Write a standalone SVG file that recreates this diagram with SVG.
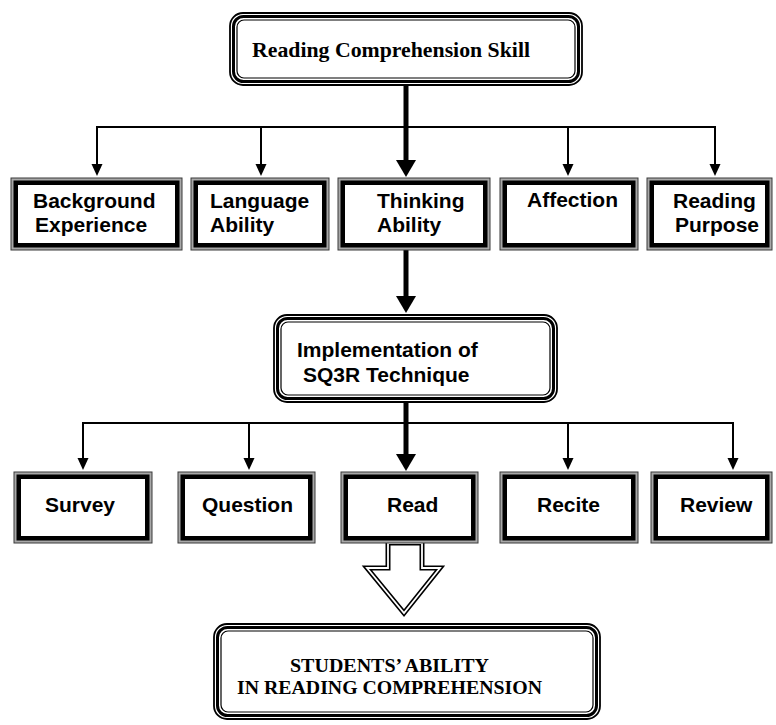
<svg xmlns="http://www.w3.org/2000/svg" width="776" height="725" viewBox="0 0 776 725">
<style>
.bo{fill:#a8a8a8;stroke:#3a3a3a;stroke-width:1}
.bm{fill:#000}
.bi{fill:#fff}
.r1{fill:#fff;stroke:#000;stroke-width:1.8}
.r2{fill:none;stroke:#000;stroke-width:3}
.r3{fill:none;stroke:#000;stroke-width:1.2}
.ts{font-family:"Liberation Serif","Times New Roman",serif;font-weight:bold;fill:#000}
.tn{font-family:"Liberation Sans",Arial,sans-serif;font-weight:bold;font-size:21px;fill:#000}
.thin{stroke:#000;stroke-width:2;fill:none}
.thick{stroke:#000;stroke-width:5;fill:none}
.ah{fill:#000}
</style>
<rect width="776" height="725" fill="#fff"/>
<g id="connectors">
  <line class="thick" x1="406" y1="86" x2="406" y2="162"/>
  <polygon class="ah" points="396,160 416,160 406,177"/>
  <polyline class="thin" points="97,166 97,127 715,127 715,166"/>
  <line class="thin" x1="261" y1="127" x2="261" y2="166"/>
  <line class="thin" x1="568" y1="127" x2="568" y2="166"/>
  <polygon class="ah" points="91.5,164 102.5,164 97,176"/>
  <polygon class="ah" points="255.5,164 266.5,164 261,176"/>
  <polygon class="ah" points="562.5,164 573.5,164 568,176"/>
  <polygon class="ah" points="709.5,164 720.5,164 715,176"/>
  <line class="thick" x1="406" y1="250" x2="406" y2="298"/>
  <polygon class="ah" points="396,296 416,296 406,313"/>
  <line class="thick" x1="406" y1="403" x2="406" y2="456"/>
  <polygon class="ah" points="396,454 416,454 406,471"/>
  <polyline class="thin" points="83,460 83,423 733,423 733,460"/>
  <line class="thin" x1="249" y1="423" x2="249" y2="460"/>
  <line class="thin" x1="568" y1="423" x2="568" y2="460"/>
  <polygon class="ah" points="77.5,458 88.5,458 83,470"/>
  <polygon class="ah" points="243.5,458 254.5,458 249,470"/>
  <polygon class="ah" points="562.5,458 573.5,458 568,470"/>
  <polygon class="ah" points="727.5,458 738.5,458 733,470"/>
  <polygon points="388,543 422,543 422,568 440,568 404,613 367,568 388,568" fill="#fff" stroke="#000" stroke-width="5" stroke-linejoin="miter"/>
  <polygon points="388,543 422,543 422,568 440,568 404,613 367,568 388,568" fill="none" stroke="#fff" stroke-width="1.8" stroke-linejoin="miter"/>
</g>
<g id="reading-comprehension-skill">
  <rect class="r1" x="230" y="13" width="352" height="72" rx="13"/>
  <rect class="r2" x="233.5" y="16.5" width="345" height="65" rx="10"/>
  <rect class="r3" x="237" y="20" width="338" height="58" rx="7"/>
  <text class="ts" x="252" y="57" font-size="21.5" textLength="278" lengthAdjust="spacingAndGlyphs">Reading Comprehension Skill</text>
</g>
<g id="background-experience">
  <rect class="bo" x="11" y="178" width="171" height="72"/>
  <rect class="bm" x="13.5" y="180.5" width="166" height="67"/>
  <rect class="bi" x="18" y="185" width="157" height="58"/>
  <text class="tn" x="33" y="208">Background</text>
  <text class="tn" x="35" y="232">Experience</text>
</g>
<g id="language-ability">
  <rect class="bo" x="191" y="178" width="138" height="72"/>
  <rect class="bm" x="193.5" y="180.5" width="133" height="67"/>
  <rect class="bi" x="198" y="185" width="124" height="58"/>
  <text class="tn" x="210" y="208">Language</text>
  <text class="tn" x="210" y="232">Ability</text>
</g>
<g id="thinking-ability">
  <rect class="bo" x="338" y="178" width="152" height="72"/>
  <rect class="bm" x="340.5" y="180.5" width="147" height="67"/>
  <rect class="bi" x="345" y="185" width="138" height="58"/>
  <text class="tn" x="377" y="208">Thinking</text>
  <text class="tn" x="377" y="232">Ability</text>
</g>
<g id="affection">
  <rect class="bo" x="500" y="178" width="138" height="72"/>
  <rect class="bm" x="502.5" y="180.5" width="133" height="67"/>
  <rect class="bi" x="507" y="185" width="124" height="58"/>
  <text class="tn" x="527" y="207">Affection</text>
</g>
<g id="reading-purpose">
  <rect class="bo" x="647" y="178" width="125" height="72"/>
  <rect class="bm" x="649.5" y="180.5" width="120" height="67"/>
  <rect class="bi" x="654" y="185" width="111" height="58"/>
  <text class="tn" x="673" y="208">Reading</text>
  <text class="tn" x="675" y="232">Purpose</text>
</g>
<g id="implementation-sq3r">
  <rect class="r1" x="274" y="315" width="283" height="87" rx="13"/>
  <rect class="r2" x="277.5" y="318.5" width="276" height="80" rx="10"/>
  <rect class="r3" x="281" y="322" width="269" height="73" rx="7"/>
  <text class="tn" x="297" y="357">Implementation of</text>
  <text class="tn" x="303" y="382">SQ3R Technique</text>
</g>
<g id="survey">
  <rect class="bo" x="14" y="472" width="138" height="71"/>
  <rect class="bm" x="16.5" y="474.5" width="133" height="66"/>
  <rect class="bi" x="21" y="479" width="124" height="57"/>
  <text class="tn" x="45" y="512">Survey</text>
</g>
<g id="question">
  <rect class="bo" x="178" y="472" width="137" height="71"/>
  <rect class="bm" x="180.5" y="474.5" width="132" height="66"/>
  <rect class="bi" x="185" y="479" width="123" height="57"/>
  <text class="tn" x="202" y="512">Question</text>
</g>
<g id="read">
  <rect class="bo" x="341" y="472" width="137" height="71"/>
  <rect class="bm" x="343.5" y="474.5" width="132" height="66"/>
  <rect class="bi" x="348" y="479" width="123" height="57"/>
  <text class="tn" x="387" y="512">Read</text>
</g>
<g id="recite">
  <rect class="bo" x="500" y="472" width="138" height="71"/>
  <rect class="bm" x="502.5" y="474.5" width="133" height="66"/>
  <rect class="bi" x="507" y="479" width="124" height="57"/>
  <text class="tn" x="537" y="512">Recite</text>
</g>
<g id="review">
  <rect class="bo" x="651" y="472" width="121" height="71"/>
  <rect class="bm" x="653.5" y="474.5" width="116" height="66"/>
  <rect class="bi" x="658" y="479" width="107" height="57"/>
  <text class="tn" x="680" y="512">Review</text>
</g>
<g id="students-ability">
  <rect class="r1" x="214" y="624" width="386" height="95" rx="13"/>
  <rect class="r2" x="217.5" y="627.5" width="379" height="88" rx="10"/>
  <rect class="r3" x="221" y="631" width="372" height="81" rx="7"/>
  <text class="ts" x="290" y="672" font-size="19.5" textLength="199" lengthAdjust="spacingAndGlyphs">STUDENTS’ ABILITY</text>
  <text class="ts" x="237" y="694" font-size="19.5" textLength="305" lengthAdjust="spacingAndGlyphs">IN READING COMPREHENSION</text>
</g>
</svg>
